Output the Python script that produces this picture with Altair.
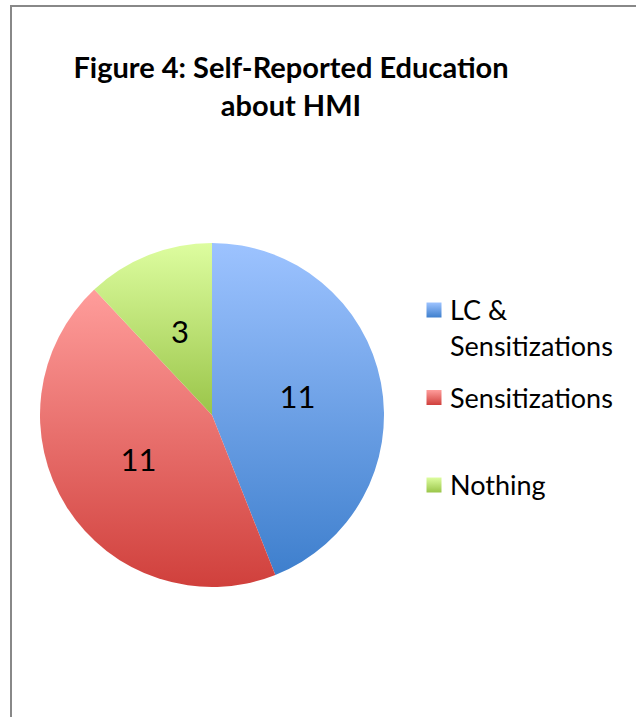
import altair as alt
import pandas as pd

# ---- data ----
categories = ["LC & Sensitizations", "Sensitizations", "Nothing"]
counts = [11, 11, 3]
slice_order = [0, 1, 2]
legend_labels = ["LC &\nSensitizations", "Sensitizations", "Nothing"]
title_lines = ["Figure 4: Self-Reported Education", "about HMI"]
top_colors = ["#9DC3FF", "#FF9D9B", "#DDFD9F"]
bottom_colors = ["#3E7FCD", "#D0403C", "#9AC549"]

df = pd.DataFrame({
    "category": categories,
    "count": counts,
    "order": slice_order,
    "legend": legend_labels,
})

FONT = "Lato"
W, H = 636, 717
CX, CY, R = 212, 415, 172


def grad(top, bottom):
    return {
        "gradient": "linear", "x1": 0, "y1": 0, "x2": 0, "y2": 1,
        "stops": [{"offset": 0, "color": top}, {"offset": 1, "color": bottom}],
    }


fill_enc = {
    "condition": [
        {"test": f"datum.category === '{c}'", "value": grad(t, b)}
        for c, t, b in zip(categories[:-1], top_colors[:-1], bottom_colors[:-1])
    ],
    "value": grad(top_colors[-1], bottom_colors[-1]),
}

base = alt.Chart(df)

theta = alt.Theta("count:Q", stack=True)
order = alt.Order("order:Q")

pie = base.mark_arc(radius=R).encode(
    theta=theta, order=order, fill=fill_enc,
    x=alt.value(CX), y=alt.value(CY),
)

pie_labels = base.mark_text(radius=87, fontSize=31, font=FONT, color="black").encode(
    theta=theta, order=order, text="count:Q",
    x=alt.value(CX), y=alt.value(CY),
)

legend_y = alt.Y(
    "category:N",
    scale=alt.Scale(domain=categories, type="point", range=[310, 485], padding=0),
    axis=None,
)

legend_sq = base.mark_square(size=225, opacity=1).encode(
    x=alt.value(434), y=legend_y, fill=fill_enc,
)

legend_txt = base.mark_text(
    align="left", baseline="alphabetic", dy=10, lineBreak="\n", lineHeight=36,
    fontSize=27, font=FONT, color="black",
).encode(x=alt.value(450), y=legend_y, text="legend:N")

deco = alt.Chart(pd.DataFrame({"k": [0]}))

title = deco.mark_text(
    align="center", baseline="alphabetic", fontSize=29, fontWeight="bold",
    font=FONT, color="black", lineHeight=38,
).encode(x=alt.value(291), y=alt.value(78), text=alt.value(title_lines))

border_left = deco.mark_rule(color="#888888", strokeWidth=2).encode(
    x=alt.value(11), y=alt.value(5), y2=alt.value(H)
)
border_top = deco.mark_rule(color="#888888", strokeWidth=2).encode(
    x=alt.value(10), x2=alt.value(W), y=alt.value(6)
)

chart = alt.layer(
    border_left, border_top, pie, pie_labels, legend_sq, legend_txt, title
).properties(
    width=W, height=H, padding=0, autosize=alt.AutoSizeParams(type="none"),
    background="white",
).configure_view(stroke=None)

chart.save("out.html", embed_options={"renderer": "svg", "actions": False})
